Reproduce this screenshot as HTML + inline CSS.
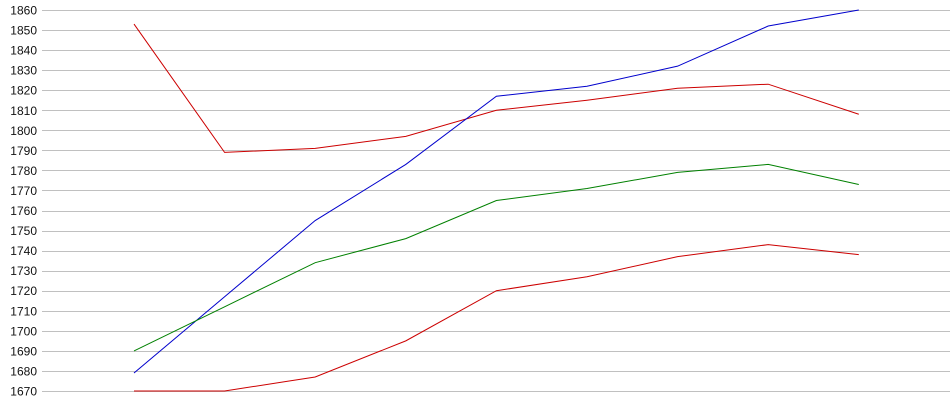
<!DOCTYPE html>
<html><head><meta charset="utf-8"><style>
html,body{margin:0;padding:0;background:#fff;width:950px;height:415px;overflow:hidden}
text{font-family:"Liberation Sans",Arial,sans-serif;font-size:12px;fill:#111}
</style></head><body>
<svg id="chart" width="950" height="415" xmlns="http://www.w3.org/2000/svg">
<g id="grid"></g>
<g id="ylab"></g>
<g id="lines"></g>
</svg>
<script>
const categories = [1,2,3,4,5,6,7,8,9];
const blueSeries = [1679,1717,1755,1783,1817,1822,1832,1852,1860];
const redTopSeries = [1853,1789,1791,1797,1810,1815,1821,1823,1808];
const greenSeries = [1690,1712,1734,1746,1765,1771,1779,1783,1773];
const redBottomSeries = [1670,1670,1677,1695,1720,1727,1737,1743,1738];
const yTicks = [1670,1680,1690,1700,1710,1720,1730,1740,1750,1760,1770,1780,1790,1800,1810,1820,1830,1840,1850,1860];

const NS='http://www.w3.org/2000/svg';
const y0=391, y1=10, vMin=1670, vMax=1860;
function yS(v){return y0-(v-vMin)*(y0-y1)/(vMax-vMin);}
function xS(i){return 134+i*90.6;}
const grid=document.getElementById('grid'), ylab=document.getElementById('ylab'), lines=document.getElementById('lines');
yTicks.forEach(t=>{
  const l=document.createElementNS(NS,'line');
  
  
  l.setAttribute('x1',42);l.setAttribute('x2',950);
  const y=Math.round(yS(t))+0.5;
  l.setAttribute('y1',y);l.setAttribute('y2',y);
  l.setAttribute('stroke','#c0c0c0');l.setAttribute('stroke-width',1);
  grid.appendChild(l);
  const tx=document.createElementNS(NS,'text');
  
  
  tx.setAttribute('x',37);tx.setAttribute('y',yS(t)+4.5);
  tx.setAttribute('text-anchor','end');
  tx.textContent=t;
  ylab.appendChild(tx);
});
const series=[[redTopSeries,'#cc0000','series-red-top'],[blueSeries,'#0000cc','series-blue'],[greenSeries,'#008000','series-green'],[redBottomSeries,'#cc0000','series-red-bottom']];
series.forEach(([d,c,n])=>{
  const p=document.createElementNS(NS,'polyline');
  
  
  p.setAttribute('points',d.map((v,i)=>xS(i)+','+yS(v)).join(' '));
  p.setAttribute('fill','none');p.setAttribute('stroke',c);p.setAttribute('stroke-width',1);
  lines.appendChild(p);
});
</script>
</body></html>
